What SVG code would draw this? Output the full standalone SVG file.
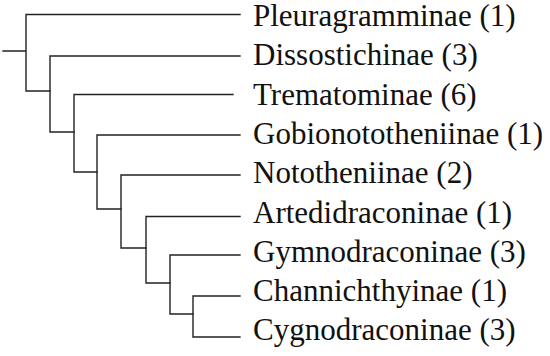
<svg xmlns="http://www.w3.org/2000/svg" width="550" height="356" viewBox="0 0 550 356">
<style>
.e{fill:none;stroke:#222;stroke-width:1.4;stroke-linecap:square}
.t{font-family:"Liberation Serif","Times New Roman",serif;font-size:31px;fill:#111}
</style>
<rect width="550" height="356" fill="#fff"/>
<g id="connectors">
<path class="e" d="M3 51H26M26 14.5V91M26 14.5H240M26 91H50"/>
<path class="e" d="M50 56V132M50 56H240M50 132H74"/>
<path class="e" d="M74 94.5V172M74 94.5H233M74 172H97"/>
<path class="e" d="M97 135V209M97 135H240M97 209H121"/>
<path class="e" d="M121 175V248M121 175H240M121 248H146"/>
<path class="e" d="M146 216.5V283M146 216.5H240M146 283H170"/>
<path class="e" d="M170 255V314M170 255H240M170 314H193"/>
<path class="e" d="M193 296V337M193 296H240M193 337H240"/>
</g>
<g id="n1"><text class="t" x="253" y="26">Pleuragramminae (1)</text></g>
<g id="n2"><text class="t" x="253" y="65.3">Dissostichinae (3)</text></g>
<g id="n3"><text class="t" x="253" y="104.6">Trematominae (6)</text></g>
<g id="n4"><text class="t" x="253" y="143.9">Gobionototheniinae (1)</text></g>
<g id="n5"><text class="t" x="253" y="183.2">Nototheniinae (2)</text></g>
<g id="n6"><text class="t" x="253" y="222.5">Artedidraconinae (1)</text></g>
<g id="n7"><text class="t" x="253" y="261.8">Gymnodraconinae (3)</text></g>
<g id="n8"><text class="t" x="253" y="301.1">Channichthyinae (1)</text></g>
<g id="n9"><text class="t" x="253" y="340.4">Cygnodraconinae (3)</text></g>
</svg>
